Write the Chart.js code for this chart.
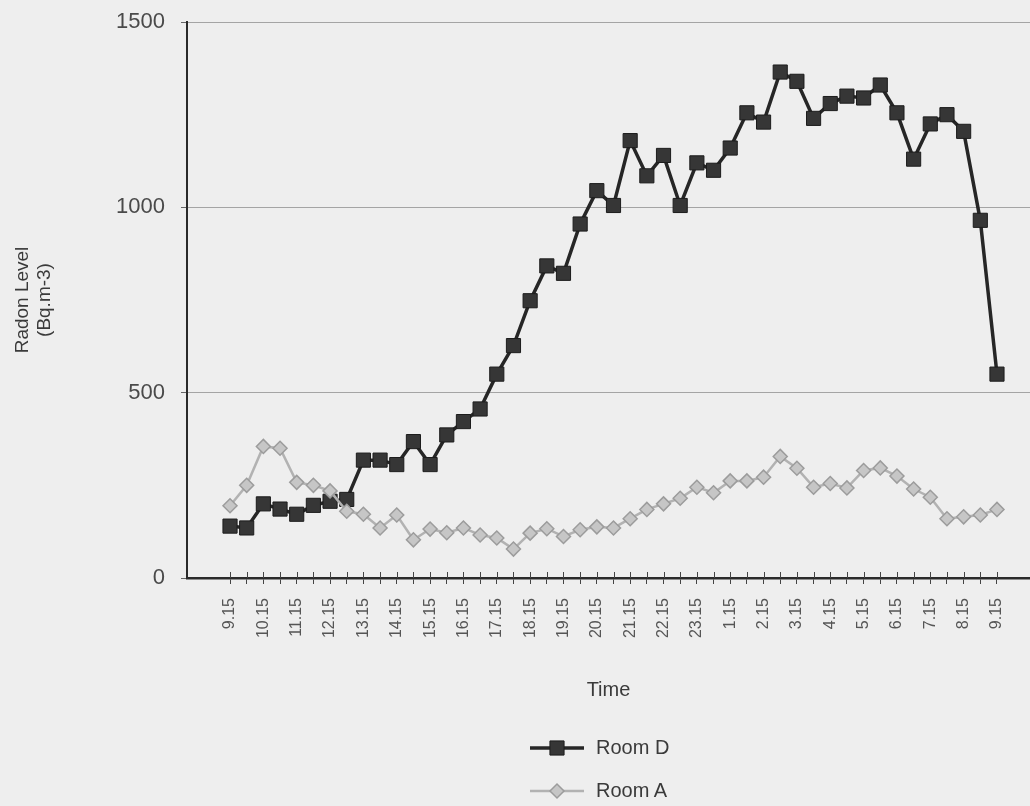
<!DOCTYPE html>
<html lang="en">
<head>
    <meta charset="UTF-8">
    <title>Radon Level by Time</title>
    <script src="https://cdn.jsdelivr.net/npm/chart.js"></script>
    <style>
        body {
            margin: 0;
            background: #eeeeee;
            font-family: "Liberation Sans", Arial, sans-serif;
            overflow: hidden;
        }
        .wrap {
            position: relative;
            width: 1030px;
            height: 806px;
            overflow: hidden;
        }
        .wrap > canvas {
            display: block;
        }
        .legend {
            position: absolute;
            left: 528px;
            top: 726px;
            color: #3a3a3a;
            font-size: 20px;
        }
        .legend-item {
            display: flex;
            align-items: center;
            height: 43px;
        }
        .legend-item canvas {
            margin-right: 10px;
        }
    </style>
</head>
<body>
    <div class="wrap">
        <!-- a little wider than the page: the plot runs off the right edge like the scan -->
        <canvas id="chart" width="1041" height="806"></canvas>
        <div class="legend" id="legend"></div>
    </div>

    <script>
        // half-hourly readings, labelled every hour on the axis
        const times = [
            '9.15', '9.45', '10.15', '10.45', '11.15', '11.45', '12.15', '12.45',
            '13.15', '13.45', '14.15', '14.45', '15.15', '15.45', '16.15', '16.45',
            '17.15', '17.45', '18.15', '18.45', '19.15', '19.45', '20.15', '20.45',
            '21.15', '21.45', '22.15', '22.45', '23.15', '0.15', '1.15', '1.45',
            '2.15', '2.45', '3.15', '3.45', '4.15', '4.45', '5.15', '5.45',
            '6.15', '6.45', '7.15', '7.45', '8.15', '8.45', '9.15'
        ];

        const roomD = [
            140, 135, 200, 186, 172, 196, 207, 212, 318, 318,
            306, 368, 306, 386, 422, 456, 550, 627, 748, 842,
            822, 955, 1045, 1005, 1180, 1085, 1140, 1005, 1120, 1100,
            1160, 1255, 1230, 1365, 1340, 1240, 1280, 1300, 1295, 1330,
            1255, 1130, 1225, 1250, 1205, 965, 550
        ];

        const roomA = [
            195, 250, 355, 350, 258, 250, 235, 180, 172, 135,
            170, 103, 132, 122, 135, 116, 108, 78, 121, 133,
            112, 130, 138, 135, 160, 185, 200, 215, 245, 230,
            262, 262, 272, 328, 296, 245, 255, 243, 290, 297,
            275, 240, 218, 160, 165, 170, 185
        ];

        const yTicks = [0, 500, 1000, 1500];

        const font = '"Liberation Sans", Arial, sans-serif';

        // small tick marks above the x axis too, so they cross the line
        const crossTicks = {
            id: 'crossTicks',
            afterDraw(chart) {
                const x = chart.scales.x;
                const ctx = chart.ctx;
                ctx.save();
                ctx.strokeStyle = '#444';
                ctx.lineWidth = 1;
                x.ticks.forEach(t => {
                    const px = Math.round(x.getPixelForValue(t.value)) + 0.5;
                    ctx.beginPath();
                    ctx.moveTo(px, x.top - 6);
                    ctx.lineTo(px, x.top);
                    ctx.stroke();
                });
                ctx.restore();
            }
        };

        const datasets = [
            {
                label: 'Room D',
                data: roomD.map((v, i) => ({ x: i, y: v })),
                borderColor: '#262626',
                borderWidth: 3.5,
                pointStyle: 'rect',
                pointRadius: 10,
                pointBackgroundColor: '#363636',
                pointBorderColor: '#1c1c1c',
                pointBorderWidth: 1,
                order: 1
            },
            {
                label: 'Room A',
                data: roomA.map((v, i) => ({ x: i, y: v })),
                borderColor: '#b2b2b2',
                borderWidth: 2.5,
                pointStyle: 'rectRot',
                pointRadius: 7,
                pointBackgroundColor: '#c6c6c6',
                pointBorderColor: '#9c9c9c',
                pointBorderWidth: 1.5,
                order: 0
            }
        ];

        const chart = new Chart(document.getElementById('chart'), {
            type: 'line',
            data: { datasets: datasets },
            options: {
                responsive: false,
                animation: false,
                layout: { padding: { top: 22, right: 0, bottom: 100, left: 0 } },
                plugins: {
                    legend: { display: false },
                    tooltip: { enabled: false }
                },
                scales: {
                    x: {
                        type: 'linear',
                        min: -2.58,
                        max: 47.98,
                        afterBuildTicks: axis => {
                            axis.ticks = times.map((t, i) => ({ value: i }));
                        },
                        afterFit: scale => {
                            scale.height = 128;
                            scale.paddingLeft = 0;
                            scale.paddingRight = 0;
                        },
                        border: { color: '#2a2a2a', width: 2.5 },
                        grid: {
                            drawOnChartArea: false,
                            drawTicks: true,
                            tickLength: 6,
                            tickColor: '#444'
                        },
                        ticks: {
                            autoSkip: false,
                            minRotation: 90,
                            maxRotation: 90,
                            padding: 14,
                            color: '#555',
                            font: { family: font, size: 16 },
                            callback: v => (v % 2 === 0 ? times[v] : '')
                        },
                        title: {
                            display: true,
                            text: 'Time',
                            color: '#3a3a3a',
                            font: { family: font, size: 20 },
                            padding: { top: 4, bottom: 4 }
                        }
                    },
                    y: {
                        min: 0,
                        max: 1500,
                        afterBuildTicks: axis => {
                            axis.ticks = yTicks.map(v => ({ value: v }));
                        },
                        afterFit: scale => {
                            scale.width = 187;
                            scale.paddingTop = 0;
                            scale.paddingBottom = 0;
                        },
                        border: { color: '#2a2a2a', width: 2 },
                        grid: {
                            color: ctx => (ctx.tick && ctx.tick.value === 0 ? 'rgba(0,0,0,0)' : '#a4a4a4'),
                            lineWidth: 1,
                            tickLength: 6,
                            tickColor: '#666'
                        },
                        ticks: {
                            padding: 16,
                            color: '#4a4a4a',
                            font: { family: font, size: 22 },
                            callback: v => String(v)
                        },
                        title: {
                            display: true,
                            text: ['Radon Level', '(Bq.m-3)'],
                            color: '#3a3a3a',
                            font: { family: font, size: 19 },
                            padding: { top: 11, bottom: 0 }
                        }
                    }
                }
            },
            plugins: [crossTicks]
        });

        // legend stacked under the axis title, swatches drawn with the chart's own point helper
        const legendEl = document.getElementById('legend');
        datasets.forEach(ds => {
            const item = document.createElement('div');
            item.className = 'legend-item';
            const sw = document.createElement('canvas');
            sw.width = 58;
            sw.height = 24;
            const c = sw.getContext('2d');
            c.strokeStyle = ds.borderColor;
            c.lineWidth = ds.borderWidth;
            c.beginPath();
            c.moveTo(2, 12);
            c.lineTo(56, 12);
            c.stroke();
            c.fillStyle = ds.pointBackgroundColor;
            c.strokeStyle = ds.pointBorderColor;
            c.lineWidth = ds.pointBorderWidth;
            Chart.helpers.drawPoint(c, {
                pointStyle: ds.pointStyle,
                radius: ds.pointRadius,
                rotation: 0,
                borderWidth: ds.pointBorderWidth
            }, 29, 12);
            const label = document.createElement('span');
            label.textContent = ds.label;
            item.appendChild(sw);
            item.appendChild(label);
            legendEl.appendChild(item);
        });
    </script>
</body>
</html>
